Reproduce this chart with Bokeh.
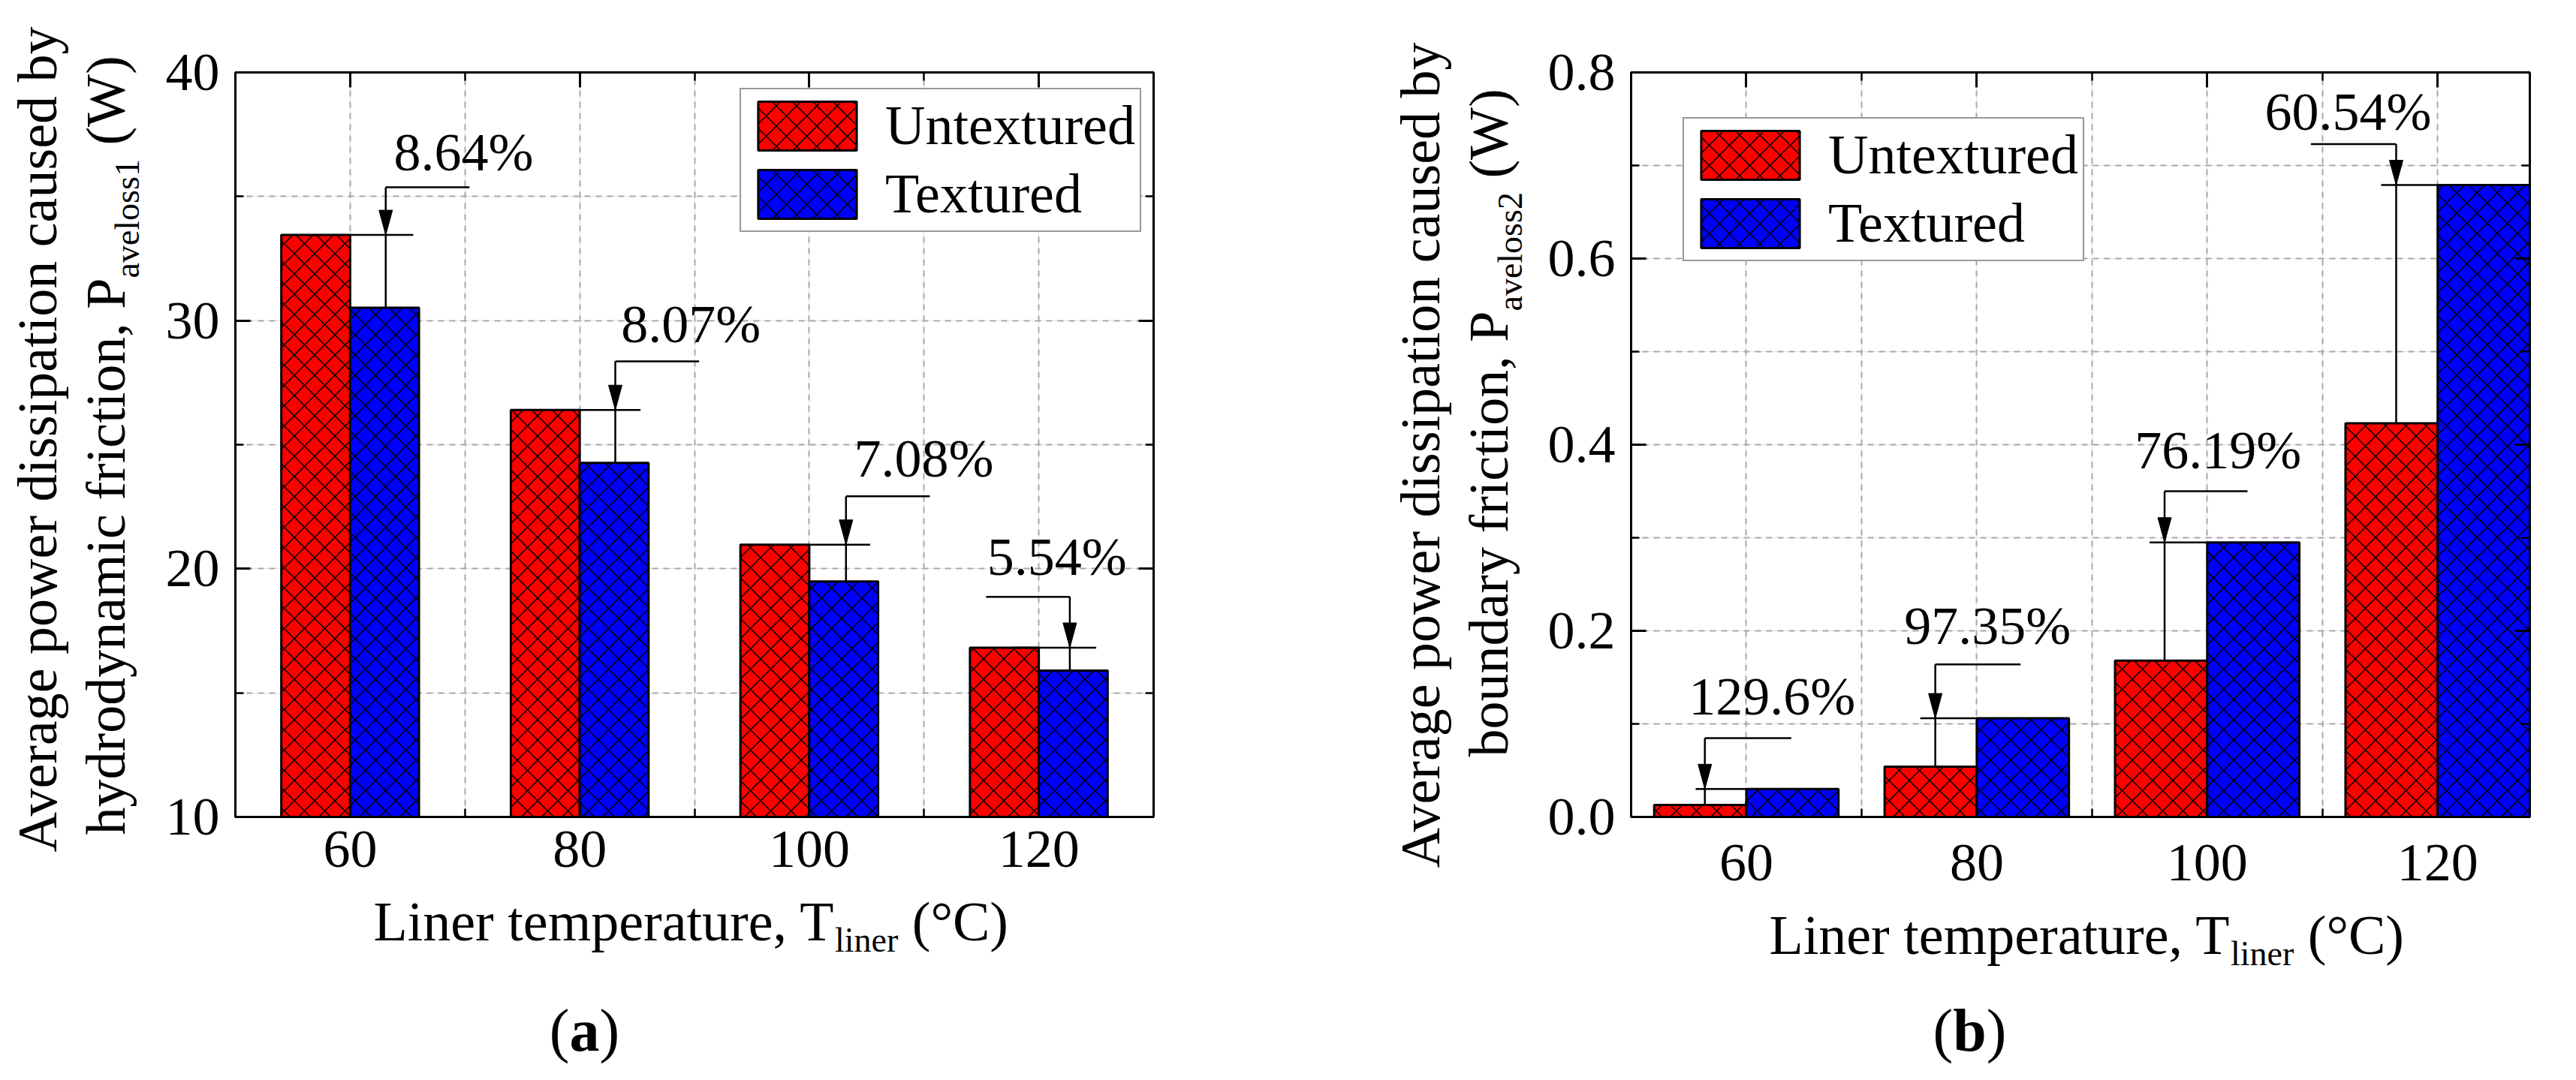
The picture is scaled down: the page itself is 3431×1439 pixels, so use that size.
from math import pi

from bokeh.embed import file_html
from bokeh.layouts import row
from bokeh.models import (ColumnDataSource, FixedTicker, Grid, Legend,
                          LegendItem, LinearAxis, PrintfTickFormatter, Range1d)
from bokeh.core.properties import value
from bokeh.plotting import figure
from bokeh.resources import INLINE
from bokeh.transform import dodge

# liner temperature (degC)
temps = [60, 80, 100, 120]

# (a) power lost to hydrodynamic friction (W)
hydro_untextured = [33.45, 26.40, 20.97, 16.82]
hydro_textured = [30.52, 24.27, 19.49, 15.90]
hydro_change = ["8.64%", "8.07%", "7.08%", "5.54%"]

# (b) power lost to boundary friction (W)
bound_untextured = [0.013, 0.054, 0.168, 0.423]
bound_textured = [0.030, 0.106, 0.295, 0.679]
bound_change = ["129.6%", "97.35%", "76.19%", "60.54%"]

# where the arrows and the percentage labels go (data units, label = text centre line)
hydro_ann = dict(
    arrow_x=[63.1, 83.1, 103.2, 122.7],
    leader_y=[35.37, 28.36, 22.92, 18.87],
    leader_end=[70.4, 90.4, 110.5, 115.4],
    ref_x0=[60, 80, 100, 117.8],
    ref_x1=[65.5, 85.3, 105.3, 125],
    text_x=[63.8, 83.6, 103.9, 115.5],
    text_y=[36.79, 29.84, 24.43, 20.48],
)
bound_ann = dict(
    arrow_x=[56.4, 76.4, 96.3, 116.4],
    leader_y=[0.0846, 0.164, 0.350, 0.723],
    leader_end=[63.9, 83.8, 103.5, 109.0],
    ref_x0=[55.6, 75.1, 95.0, 115.1],
    ref_x1=[60, 80, 100, 120],
    text_x=[55.0, 73.7, 93.7, 105.0],
    text_y=[0.1293, 0.2053, 0.3943, 0.7573],
)

FONT = "Liberation Serif"
HEIGHT = 1420
FRAME_TOP, FRAME_BOTTOM = 104, 1096   # page pixels, shared by both panels in a row

# Times metrics, 1/1000 em, to lay out the rich-text labels
TNR = {" ": 250, "(": 333, ")": 333, "%": 833, ",": 250, ".": 250, "\u00b0": 400,
       "A": 722, "C": 667, "L": 611, "P": 556, "T": 611, "W": 944,
       "a": 444, "b": 500, "c": 444, "d": 500, "e": 444, "f": 333, "g": 500,
       "h": 500, "i": 278, "l": 278, "m": 778, "n": 500, "o": 500, "p": 500,
       "r": 333, "s": 389, "t": 278, "u": 500, "v": 500, "w": 722, "x": 500,
       "y": 500}
TNR_BOLD = {"a": 500, "b": 556}


def tw(s, size, bold=False):
    table = TNR_BOLD if bold else {}
    return sum(table.get(ch, TNR.get(ch, 500)) for ch in s) * size / 1000.0


class Panel:
    def __init__(self, p, fl, fr, xr, yr):
        self.p, self.fl, self.fr, self.xr, self.yr = p, fl, fr, xr, yr
        self.runs = {False: dict(x=[], y=[], text=[], size=[], angle=[]),
                     True: dict(x=[], y=[], text=[], size=[], angle=[])}

    def data(self, X, Y):
        x0, x1 = self.xr
        y0, y1 = self.yr
        return (x0 + (X - self.fl) / (self.fr - self.fl) * (x1 - x0),
                y0 + (FRAME_BOTTOM - Y) / (FRAME_BOTTOM - FRAME_TOP) * (y1 - y0))

    def text_run(self, x, y, parts, angle=0.0):
        # parts: (text, size, baseline shift, bold); x, y = page pixels of the baseline start
        pos = 0.0
        for text, size, shift, bold in parts:
            lead = text[:len(text) - len(text.lstrip(" "))]
            pos += tw(lead, size, bold)      # svg drops leading blanks, so skip them here
            text = text.lstrip(" ")
            mid = shift - 0.3375 * size
            if angle:
                px, py = x + mid, y - pos
            else:
                px, py = x + pos, y + mid
            dx, dy = self.data(px, py)
            run = self.runs[bold]
            run["x"].append(dx)
            run["y"].append(dy)
            run["text"].append(text)
            run["size"].append("%dpx" % size)
            run["angle"].append(angle)
            pos += tw(text, size, bold)

    def draw_runs(self):
        for bold, run in self.runs.items():
            if not run["text"]:
                continue
            self.p.text(x="x", y="y", text="text", angle="angle", text_font_size="size",
                        source=ColumnDataSource(run), text_font=value(FONT),
                        text_font_style="bold" if bold else "normal",
                        text_align="left", text_baseline="middle",
                        text_color="black", level="overlay")


def style_axis(ax, labels=True, standoff=20):
    ax.axis_line_width = 3
    ax.axis_line_color = "black"
    ax.major_tick_line_width = 3
    ax.minor_tick_line_width = 2.5
    ax.major_tick_in = 20
    ax.major_tick_out = 0
    ax.minor_tick_in = 11
    ax.minor_tick_out = 0
    if labels:
        ax.major_label_text_font = FONT
        ax.major_label_text_font_size = "72px"
        ax.major_label_text_color = "black"
        ax.major_label_standoff = standoff
    else:
        ax.major_label_text_color = None
        ax.major_label_text_font_size = "8px"


def make_panel(width, page_x, left, right, x_end, y_range, y_major, y_minor, fmt,
               untextured, textured, change, ann, bar_w, legend_loc, x_standoff):
    top = FRAME_TOP - 8
    bottom = HEIGHT + 8 - FRAME_BOTTOM
    p = figure(width=width, height=HEIGHT, title=None, toolbar_location=None,
               output_backend="svg", x_range=Range1d(50, x_end),
               y_range=Range1d(*y_range), x_axis_location=None, y_axis_location=None,
               min_border_left=left, min_border_right=right,
               min_border_top=top, min_border_bottom=bottom)
    p.outline_line_color = "black"
    p.outline_line_width = 3
    p.background_fill_color = "white"
    p.border_fill_color = "white"

    x_ticks = FixedTicker(ticks=temps, minor_ticks=[70, 90, 110])
    y_ticks = FixedTicker(ticks=y_major, minor_ticks=y_minor)
    for side, labels in (("below", True), ("above", False)):
        ax = LinearAxis(ticker=x_ticks)
        style_axis(ax, labels, standoff=x_standoff)
        p.add_layout(ax, side)
    for side, labels in (("left", True), ("right", False)):
        ax = LinearAxis(ticker=y_ticks, formatter=PrintfTickFormatter(format=fmt))
        style_axis(ax, labels, standoff=21)
        p.add_layout(ax, side)

    for dim, ticks in ((0, [60, 70, 80, 90, 100, 110, 120]), (1, sorted(y_major + y_minor))):
        g = Grid(dimension=dim, ticker=FixedTicker(ticks=ticks))
        g.grid_line_color = "#a8a8a8"
        g.grid_line_width = 2
        g.grid_line_dash = "8 7"
        p.add_layout(g)

    src = ColumnDataSource(dict(temp=temps, untextured=untextured, textured=textured))
    hatch = dict(line_color="black", line_width=3, hatch_pattern="diagonal_cross",
                 hatch_color="black", hatch_scale=27, hatch_weight=1.5)
    r_un = p.vbar(x=dodge("temp", -bar_w / 2), top="untextured", bottom=y_range[0],
                  width=bar_w, source=src, fill_color="#ff0000", **hatch)
    r_tx = p.vbar(x=dodge("temp", bar_w / 2), top="textured", bottom=y_range[0],
                  width=bar_w, source=src, fill_color="#0000ff", **hatch)

    # percentage change markers
    hi = [max(u, t) for u, t in zip(untextured, textured)]
    lo = [min(u, t) for u, t in zip(untextured, textured)]
    seg = dict(line_color="black", line_width=2.5)
    p.segment(ann["ref_x0"], hi, ann["ref_x1"], hi, **seg)
    p.segment(ann["arrow_x"], lo, ann["arrow_x"], ann["leader_y"], **seg)
    p.segment(ann["arrow_x"], ann["leader_y"], ann["leader_end"], ann["leader_y"], **seg)

    fw = width - left - right
    fh = HEIGHT - top - bottom
    hw = 9 * (x_end - 50) / fw
    hl = 33 * (y_range[1] - y_range[0]) / fh
    xs = [[a - hw, a + hw, a] for a in ann["arrow_x"]]
    ys = [[h + hl, h + hl, h] for h in hi]
    p.patches(xs, ys, fill_color="black", line_color="black", line_width=1)

    p.text(ann["text_x"], ann["text_y"], text=change, text_font=value(FONT),
           text_font_size="72px", text_align="left", text_baseline="middle",
           text_color="black")

    legend = Legend(items=[LegendItem(label="Untextured", renderers=[r_un]),
                           LegendItem(label="Textured", renderers=[r_tx])],
                    location=legend_loc, margin=0, padding=6, spacing=6,
                    glyph_width=164, glyph_height=81, label_height=81,
                    label_standoff=22, label_text_font=FONT,
                    label_text_font_size="74px", label_text_color="black",
                    border_line_color="#333333", border_line_width=2,
                    background_fill_color="white", background_fill_alpha=1.0)
    p.add_layout(legend)
    return Panel(p, page_x + left, page_x + width - right, (50, x_end), y_range)


pa = make_panel(1692, 8, 313, 156, 130, (10, 40), [10, 20, 30, 40], [15, 25, 35],
                "%d", hydro_untextured, hydro_textured, hydro_change, hydro_ann, 6,
                (672, FRAME_BOTTOM - 317), 19)
pb = make_panel(1723, 1700, 480, 46, 128, (0, 0.8), [0.0, 0.2, 0.4, 0.6, 0.8],
                [0.1, 0.3, 0.5, 0.7], "%.1f", bound_untextured, bound_textured,
                bound_change, bound_ann, 8, (69, FRAME_BOTTOM - 356), 37)

# axis titles and panel tags, placed by page pixels of their baselines
x_title = [("Liner temperature, T", 74, 0, False), ("liner", 46, 16, False),
           (" (\u00b0C)", 74, 0, False)]
pa.text_run(505, 1260, x_title)
pb.text_run(2364, 1278, x_title)

pa.text_run(82, 1143, [("Average power dissipation caused by", 74, 0, False)], pi / 2)
pa.text_run(173, 1120, [("hydrodynamic friction, P", 74, 0, False),
                        ("aveloss1", 46, 20, False), (" (W)", 74, 0, False)], pi / 2)
pb.text_run(1924, 1164, [("Average power dissipation caused by", 74, 0, False)], pi / 2)
pb.text_run(2015, 1016, [("boundary friction, P", 74, 0, False),
                         ("aveloss2", 46, 20, False), (" (W)", 74, 0, False)], pi / 2)

for panel, cx, tag in ((pa, 786, "a"), (pb, 2631, "b")):
    parts = [("(", 80, 0, False), (tag, 80, 0, True), (")", 80, 0, False)]
    total = sum(tw(t, s, b) for t, s, _, b in parts)
    panel.text_run(cx - total / 2, 1407, parts)

pa.draw_runs()
pb.draw_runs()

layout = row(pa.p, pb.p)
open("out.html", "w").write(file_html(layout, INLINE))
